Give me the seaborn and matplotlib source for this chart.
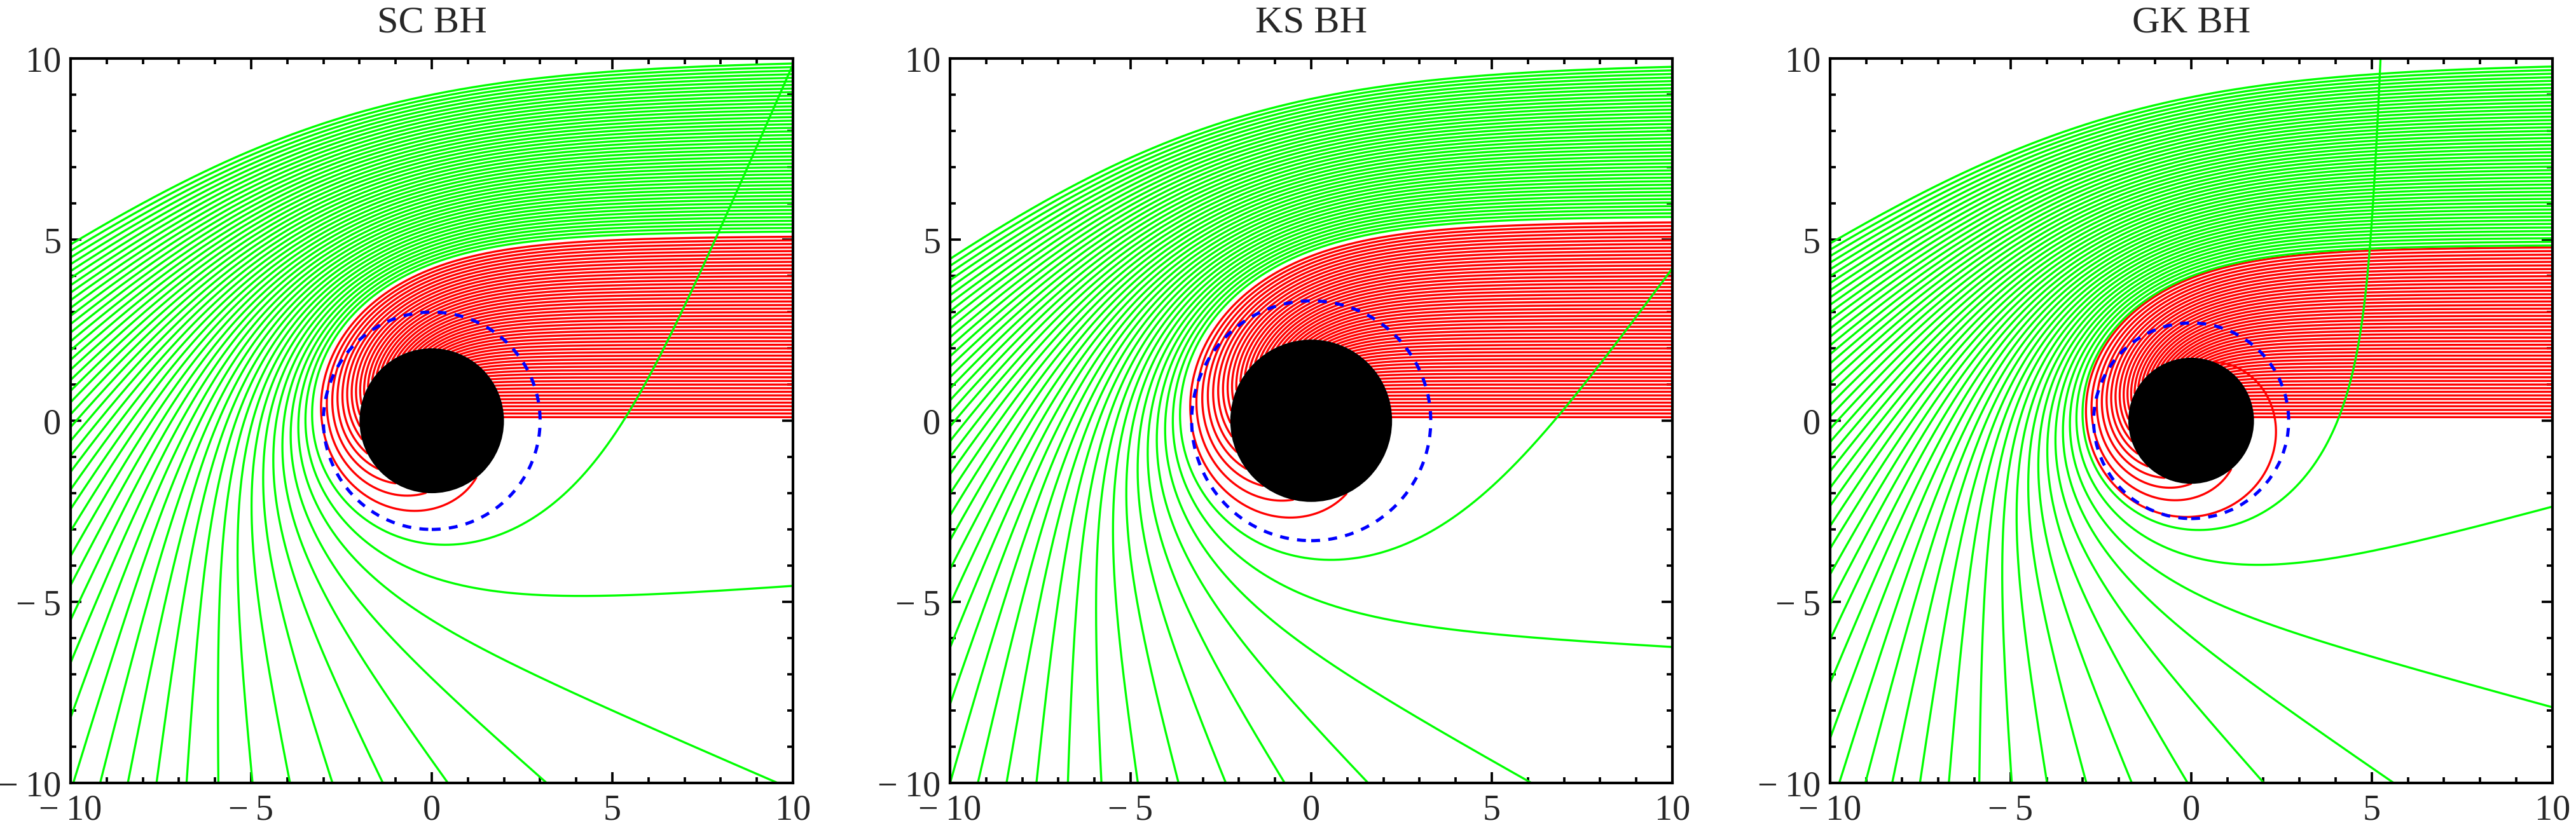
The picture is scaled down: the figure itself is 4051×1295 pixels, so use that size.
import numpy as np
import pandas as pd
import matplotlib
matplotlib.use("Agg")
import matplotlib.pyplot as plt
import seaborn as sns
from matplotlib.patches import Circle
from matplotlib.ticker import MultipleLocator, FuncFormatter

# panels and black hole parameters (M = 1)
titles = ["SC BH", "KS BH", "GK BH"]
bh_mass = 1.0
ks_a = 1.0
gk_q = 0.40
horizon_r = [2.0, 2.24, 1.74]
photon_r = [3.0, 3.31, 2.70]

# impact parameters of the rays: captured (red) and escaping (green)
red_b_first = 0.1
red_b_last = [5.1, 5.5, 4.8]
green_b_first = [5.2445, 5.654, 4.8585]
green_b_last = 9.95
b_step = 0.1
x_start = 15.0

RED = (1, 0, 0)
GREEN = (0, 1, 0)
BLUE = (0, 0, 1)


def G_sc(u):
    return u**2 - 2 * bh_mass * u**3


def F_sc(u):
    return u - 3 * bh_mass * u**2


def G_ks(u):
    s = np.sqrt(1 - ks_a**2 * u**2)
    return u**2 * s - 2 * bh_mass * u**3


def F_ks(u):
    s = np.sqrt(1 - ks_a**2 * u**2)
    return u * s - ks_a**2 * u**3 / (2 * s) - 3 * bh_mass * u**2


def G_gk(u):
    return u**2 - 2 * bh_mass * u**3 + gk_q * u**4


def F_gk(u):
    return u - 3 * bh_mass * u**2 + 2 * gk_q * u**3


metrics = [(G_sc, F_sc), (G_ks, F_ks), (G_gk, F_gk)]


def trace(bs, G, F, r_hor, dphi=0.0025, nmax=5000, r_far=40.0):
    bs = np.asarray(bs, dtype=float)
    n = len(bs)
    phi = np.arctan2(bs, x_start)
    u = 1 / np.hypot(x_start, bs)
    w = np.sqrt(np.maximum(1 / bs**2 - G(u), 0))
    xs = np.full((nmax + 1, n), np.nan)
    ys = np.full((nmax + 1, n), np.nan)
    xs[0] = x_start
    ys[0] = bs
    alive = np.ones(n, bool)
    for i in range(1, nmax + 1):
        h = dphi
        k1u, k1w = w, -F(u)
        k2u, k2w = w + h / 2 * k1w, -F(u + h / 2 * k1u)
        k3u, k3w = w + h / 2 * k2w, -F(u + h / 2 * k2u)
        k4u, k4w = w + h * k3w, -F(u + h * k3u)
        un = u + h / 6 * (k1u + 2 * k2u + 2 * k3u + k4u)
        wn = w + h / 6 * (k1w + 2 * k2w + 2 * k3w + k4w)
        u = np.where(alive, un, u)
        w = np.where(alive, wn, w)
        phi = np.where(alive, phi + h, phi)
        xs[i] = np.where(alive, np.cos(phi) / u, np.nan)
        ys[i] = np.where(alive, np.sin(phi) / u, np.nan)
        done = (u >= 1 / r_hor) | ((u < 1 / r_far) & (w < 0))
        alive &= ~done
        if not alive.any():
            break
    frames = []
    for j in range(n):
        ok = ~np.isnan(xs[:, j])
        frames.append(pd.DataFrame({"x": xs[ok, j], "y": ys[ok, j], "ray": j}))
    return pd.concat(frames, ignore_index=True)


def tick_fmt(v, pos):
    if v < 0:
        return "\u2212\u2009%d" % abs(v)
    return "%d" % v


sns.set_style("ticks")
plt.rcParams["font.family"] = ["Liberation Serif", "DejaVu Serif"]

fig = plt.figure(figsize=(4051 / 300, 1295 / 300), dpi=300)
lefts = [0.0274, 0.3688, 0.7104]

with np.errstate(invalid="ignore", divide="ignore"):
    for k in range(3):
        ax = fig.add_axes([lefts[k], 0.0486, 0.2804, 0.8803])
        G, F = metrics[k]
        red_b = np.arange(red_b_first, red_b_last[k] + 1e-6, b_step)
        green_b = np.arange(green_b_first[k], green_b_last + 1e-6, b_step)

        df_red = trace(red_b, G, F, horizon_r[k])
        df_green = trace(green_b, G, F, horizon_r[k])

        sns.lineplot(data=df_red, x="x", y="y", units="ray", estimator=None,
                     sort=False, color=RED, linewidth=0.8, ax=ax, zorder=2)
        sns.lineplot(data=df_green, x="x", y="y", units="ray", estimator=None,
                     sort=False, color=GREEN, linewidth=0.8, ax=ax, zorder=3)

        ax.add_patch(Circle((0, 0), photon_r[k], fill=False, ec=BLUE, lw=1.2,
                            ls=(0, (2.8, 2.6)), zorder=4))
        ax.add_patch(Circle((0, 0), horizon_r[k], fc="black", ec="none", zorder=5))

        ax.set_xlim(-10, 10)
        ax.set_ylim(-10, 10)
        ax.set_xticks([-10, -5, 0, 5, 10])
        ax.set_yticks([-10, -5, 0, 5, 10])
        ax.xaxis.set_major_formatter(FuncFormatter(tick_fmt))
        ax.yaxis.set_major_formatter(FuncFormatter(tick_fmt))
        ax.xaxis.set_minor_locator(MultipleLocator(1))
        ax.yaxis.set_minor_locator(MultipleLocator(1))
        ax.tick_params(which="both", direction="in", top=True, right=True,
                       labeltop=False, labelright=False, labelsize=13.5,
                       width=0.9, color="black")
        ax.tick_params(which="major", length=4.0)
        ax.tick_params(axis="x", which="major", pad=4.3)
        ax.tick_params(axis="y", which="major", pad=3.5)
        ax.tick_params(which="minor", length=2.2)
        for sp in ax.spines.values():
            sp.set_linewidth(1.0)
            sp.set_color("black")
            sp.set_zorder(6)
        ax.set_xlabel("")
        ax.set_ylabel("")
        ax.set_title(titles[k], fontsize=14.5, pad=10)

fig.savefig("out.png", dpi=300)
